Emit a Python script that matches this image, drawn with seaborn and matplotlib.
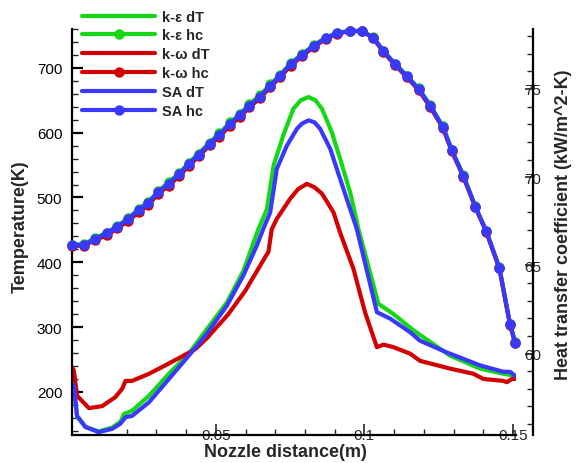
import seaborn as sns
import matplotlib.pyplot as plt
from matplotlib.ticker import MultipleLocator, FixedLocator, FixedFormatter

# nozzle wall data
# temperature difference (left axis)
ke_dT_x = [0.0016, 0.0022, 0.0033, 0.0061, 0.0106, 0.0151, 0.0179, 0.0191, 0.0218, 0.0275, 0.0342,
           0.0409, 0.0470, 0.0537, 0.0593, 0.0643, 0.0672, 0.0694, 0.0727, 0.0761, 0.0786, 0.0812,
           0.0835, 0.0857, 0.0890, 0.0918, 0.0952, 0.0980, 0.1047, 0.1098, 0.1165, 0.1288, 0.1389,
           0.1468, 0.1507]
ke_dT = [212, 206, 162, 146, 139, 145, 154, 166, 171, 194, 228,
         259, 297, 338, 387, 451, 482, 549, 596, 637, 650, 655,
         650, 637, 601, 560, 508, 451, 336, 320, 295, 256, 236,
         228, 225]

kw_dT_x = [0.0016, 0.0022, 0.0033, 0.0073, 0.0117, 0.0162, 0.0185, 0.0196, 0.0218, 0.0275, 0.0330,
           0.0387, 0.0431, 0.0470, 0.0542, 0.0599, 0.0666, 0.0677, 0.0688, 0.0705, 0.0750, 0.0777,
           0.0806, 0.0831, 0.0857, 0.0896, 0.0918, 0.0963, 0.1002, 0.1042, 0.1064, 0.1098, 0.1154,
           0.1187, 0.1288, 0.1367, 0.1400, 0.1468, 0.1479, 0.1496, 0.1507]
kw_dT = [238, 233, 194, 175, 178, 192, 205, 217, 217, 228, 241,
         255, 266, 283, 320, 356, 408, 416, 451, 467, 498, 513,
         521, 516, 506, 477, 446, 390, 323, 269, 273, 269, 259,
         248, 236, 228, 220, 217, 215, 220, 220]

sa_dT_x = [0.0016, 0.0022, 0.0033, 0.0061, 0.0106, 0.0151, 0.0179, 0.0196, 0.0218, 0.0275, 0.0342,
           0.0409, 0.0465, 0.0537, 0.0593, 0.0638, 0.0660, 0.0683, 0.0705, 0.0739, 0.0773, 0.0790,
           0.0812, 0.0832, 0.0851, 0.0885, 0.0918, 0.0952, 0.0974, 0.1042, 0.1087, 0.1154, 0.1187,
           0.1277, 0.1389, 0.1468, 0.1490, 0.1507]
sa_dT = [214, 210, 163, 146, 138, 143, 151, 161, 163, 184, 220,
         256, 287, 333, 380, 426, 452, 477, 544, 580, 606, 614,
         619, 616, 606, 575, 529, 482, 452, 323, 313, 292, 279,
         261, 241, 231, 231, 225]

# heat transfer coefficient (right axis)
hc_x = [0.0016, 0.0055, 0.0094, 0.0133, 0.0169, 0.0206, 0.0240, 0.0273, 0.0307, 0.0341, 0.0377,
        0.0408, 0.0442, 0.0479, 0.0512, 0.0548, 0.0582, 0.0613, 0.0649, 0.0683, 0.0716, 0.0752,
        0.0789, 0.0829, 0.0870, 0.0907, 0.0952, 0.0991, 0.1030, 0.1064, 0.1103, 0.1143, 0.1182,
        0.1221, 0.1264, 0.1294, 0.1333, 0.1373, 0.1410, 0.1454, 0.1490, 0.1507]
ke_hc = [66.18, 66.20, 66.54, 66.86, 67.24, 67.68, 68.20, 68.60, 69.22, 69.70, 70.24,
         70.80, 71.34, 71.96, 72.48, 73.10, 73.60, 74.14, 74.64, 75.26, 75.80, 76.46,
         76.96, 77.48, 77.90, 78.18, 78.29, 78.29, 77.93, 77.16, 76.44, 75.75, 75.04,
         74.10, 72.88, 71.56, 70.10, 68.36, 66.95, 64.88, 61.68, 60.64]
kw_hc = [66.10, 66.12, 66.42, 66.72, 67.10, 67.52, 68.02, 68.44, 69.06, 69.52, 70.06,
         70.62, 71.18, 71.80, 72.30, 72.92, 73.43, 73.96, 74.48, 75.10, 75.66, 76.32,
         76.84, 77.38, 77.84, 78.14, 78.28, 78.28, 77.88, 77.08, 76.36, 75.66, 74.94,
         73.98, 72.78, 71.46, 70.02, 68.30, 66.90, 64.83, 61.63, 60.60]
sa_hc = [66.16, 66.16, 66.50, 66.82, 67.20, 67.63, 68.14, 68.55, 69.17, 69.64, 70.17,
         70.73, 71.28, 71.90, 72.41, 73.03, 73.53, 74.06, 74.57, 75.19, 75.75, 76.41,
         76.92, 77.45, 77.88, 78.16, 78.29, 78.29, 77.91, 77.13, 76.41, 75.72, 75.00,
         74.06, 72.84, 71.52, 70.06, 68.33, 66.92, 64.85, 61.65, 60.62]

x_ticks = [0.05, 0.1, 0.15]
x_tick_labels = ["0.05", "0.1", "0.15"]
t_ticks = [200, 300, 400, 500, 600, 700]
hc_ticks = [60, 65, 70, 75]

green = "#14d814"
red = "#d20000"
blue = "#3838ff"

sns.set_style("white")
plt.rcParams['font.family'] = ['Liberation Sans', 'DejaVu Sans']

fig = plt.figure(figsize=(5.78, 4.64), dpi=100)
ax = fig.add_axes([0.1246, 0.0610, 0.7681, 0.8744])
ax2 = ax.twinx()

# dT curves, left axis
sns.lineplot(x=ke_dT_x, y=ke_dT, color=green, linewidth=3, sort=False, estimator=None,
             legend=False, label="k-ε dT", ax=ax)
sns.lineplot(x=kw_dT_x, y=kw_dT, color=red, linewidth=3, sort=False, estimator=None,
             legend=False, label="k-ω dT", ax=ax)
sns.lineplot(x=sa_dT_x, y=sa_dT, color=blue, linewidth=3, sort=False, estimator=None,
             legend=False, label="SA dT", ax=ax)

# hc curves with markers, right axis
for vals, col, lab in [(ke_hc, green, "k-ε hc"), (kw_hc, red, "k-ω hc"), (sa_hc, blue, "SA hc")]:
    sns.lineplot(x=hc_x, y=vals, color=col, linewidth=3, marker="o", markersize=7.5,
                 markeredgecolor=col, markeredgewidth=0, sort=False, estimator=None,
                 legend=False, label=lab, ax=ax2, clip_on=False)

ax.set_xlim(0.0016, 0.151)
ax.set_ylim(134, 760)
ax2.set_ylim(55.4, 78.4)

# spines
for s in ["top", "right"]:
    ax.spines[s].set_visible(False)
for s in ["top", "left", "bottom"]:
    ax2.spines[s].set_visible(False)
ax2.spines["right"].set_position(("axes", 1.038))
for sp in [ax.spines["left"], ax.spines["bottom"], ax2.spines["right"]]:
    sp.set_linewidth(1.6)
    sp.set_color("black")

# ticks
ax.xaxis.set_major_locator(FixedLocator(x_ticks))
ax.xaxis.set_major_formatter(FixedFormatter(x_tick_labels))
ax.xaxis.set_minor_locator(MultipleLocator(0.01))
ax.yaxis.set_major_locator(FixedLocator(t_ticks))
ax.yaxis.set_minor_locator(MultipleLocator(20))
ax2.yaxis.set_major_locator(FixedLocator(hc_ticks))
ax2.yaxis.set_minor_locator(MultipleLocator(1))

ax.tick_params(axis="y", which="major", direction="in", length=8, width=1.6, labelsize=11, pad=7,
               left=True, colors="black")
ax.tick_params(axis="y", which="minor", direction="in", length=4.5, width=1, left=True)
ax.tick_params(axis="x", which="major", direction="in", length=8, width=1.2, labelsize=11, pad=-5,
               bottom=True)
ax.tick_params(axis="x", which="minor", direction="in", length=4.5, width=1, bottom=True)
ax2.tick_params(axis="y", which="major", direction="in", length=6, width=1.2, labelsize=11, pad=-6,
                right=True)
ax2.tick_params(axis="y", which="minor", direction="in", length=4.5, width=1, right=True)

ax.set_xlabel("Nozzle distance(m)", fontsize=13, fontweight="bold")
ax.set_ylabel("Temperature(K)", fontsize=13, fontweight="bold")
ax2.set_ylabel("Heat transfer coefficient (kW/m^2-K)", fontsize=13, fontweight="bold")
ax.xaxis.set_label_coords(0.48, -0.02)
ax.yaxis.set_label_coords(-0.097, 0.516)
ax2.yaxis.set_label_coords(1.088, 0.52)

# legend with handles from both axes, in the original order
h1, l1 = ax.get_legend_handles_labels()
h2, l2 = ax2.get_legend_handles_labels()
handles = [h1[0], h2[0], h1[1], h2[1], h1[2], h2[2]]
labels = [l1[0], l2[0], l1[1], l2[1], l1[2], l2[2]]
fig.legend(handles, labels, loc="upper left", bbox_to_anchor=(0.142, 0.977), frameon=False,
           borderpad=0, borderaxespad=0, handlelength=5.0, handletextpad=0.45, labelspacing=0.33,
           numpoints=1, prop={"weight": "bold", "size": 10.5})

plt.savefig("out.png", dpi=100)
